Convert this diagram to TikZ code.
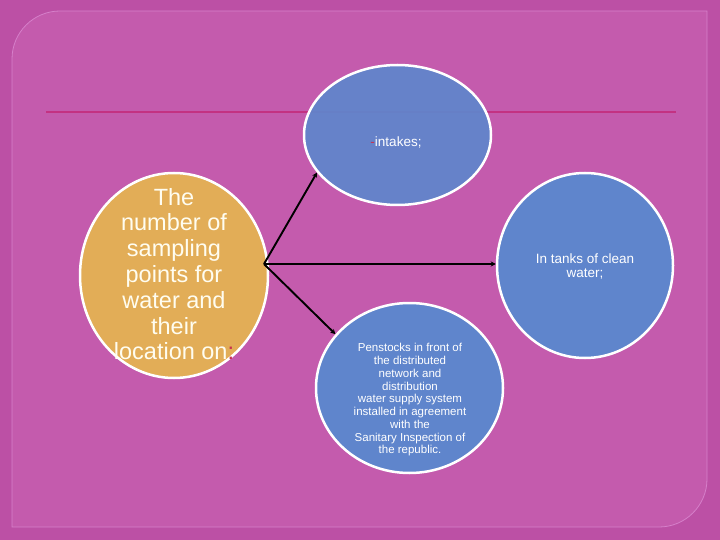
\documentclass[tikz,border=0pt]{standalone}
\usepackage{fontspec}
\setmainfont{Liberation Sans}
\usetikzlibrary{shapes.geometric,arrows.meta}
\definecolor{outerbg}{HTML}{BC50A5}
\definecolor{innerbg}{HTML}{C45BAD}
\definecolor{innerline}{HTML}{D680CA}
\definecolor{ruleline}{HTML}{C33282}
\definecolor{bubbleblue}{HTML}{5F85CC}
\definecolor{bubbleorange}{HTML}{E2AD57}
\definecolor{accentred}{HTML}{C8324F}
\definecolor{creamtext}{HTML}{FFFDF0}
\tikzset{
  bubble/.style={ellipse, draw=white, line width=2.5pt, inner sep=0pt},
  blueb/.style={bubble, fill=bubbleblue},
  txt/.style={text=white, align=center, inner sep=0pt},
  link/.style={draw=black, line width=1.9pt, -{Stealth[length=5pt,width=5pt]}}
}
\begin{document}
\begin{tikzpicture}[x=1pt,y=-1pt]
\useasboundingbox (0,0) rectangle (720,540);
\fill[outerbg] (0,0) rectangle (720,540);
\draw[innerline, fill=innerbg, line width=0.8pt]
  (12,59) arc (180:270:48) -- (707,11) -- (707,479) arc (0:90:48) -- (12,527) -- cycle;
\coordinate (hl1) at (46,112);
\coordinate (hl2) at (676,112);
\draw[ruleline, line width=1.2pt] (hl1) -- (hl2);
% bubbles
\node[blueb, fill opacity=0.93, minimum width=187pt, minimum height=140pt] (intakes) at (397.5,135) {};
\node[blueb, minimum width=176pt, minimum height=185pt] (tanks) at (585,265.5) {};
\node[blueb, minimum width=187pt, minimum height=170pt] (pens) at (409.5,388) {};
\node[bubble, fill=bubbleorange, minimum width=188pt, minimum height=205pt] (src) at (174,275.5) {};
% texts
\node[txt, font=\fontsize{13.5}{16}\selectfont] (tint) at (396,142) {\textcolor{accentred}{-}intakes;};
\node[txt, font=\fontsize{13.5}{14}\selectfont] (ttank) at (585,266) {In tanks of clean\\water;};
\node[txt, font=\fontsize{11.5}{12.75}\selectfont] (tpens) at (410,400)
  {Penstocks in front of\\the distributed\\network and\\distribution\\water supply system\\installed in agreement\\with the\\Sanitary Inspection of\\the republic.};
\node[txt, text=creamtext, font=\fontsize{23.5}{25.8}\selectfont] (tsrc) at (174,274)
  {The\\number of\\sampling\\points for\\water and\\their\\location on\textcolor{accentred}{:}};
% connectors
\coordinate (o) at (264,264);
\draw[link] (o) -- (intakes.205);
\draw[link] (o) -- (o -| tanks.west);
\draw[link] (o) -- (pens.144);
\end{tikzpicture}
\end{document}
